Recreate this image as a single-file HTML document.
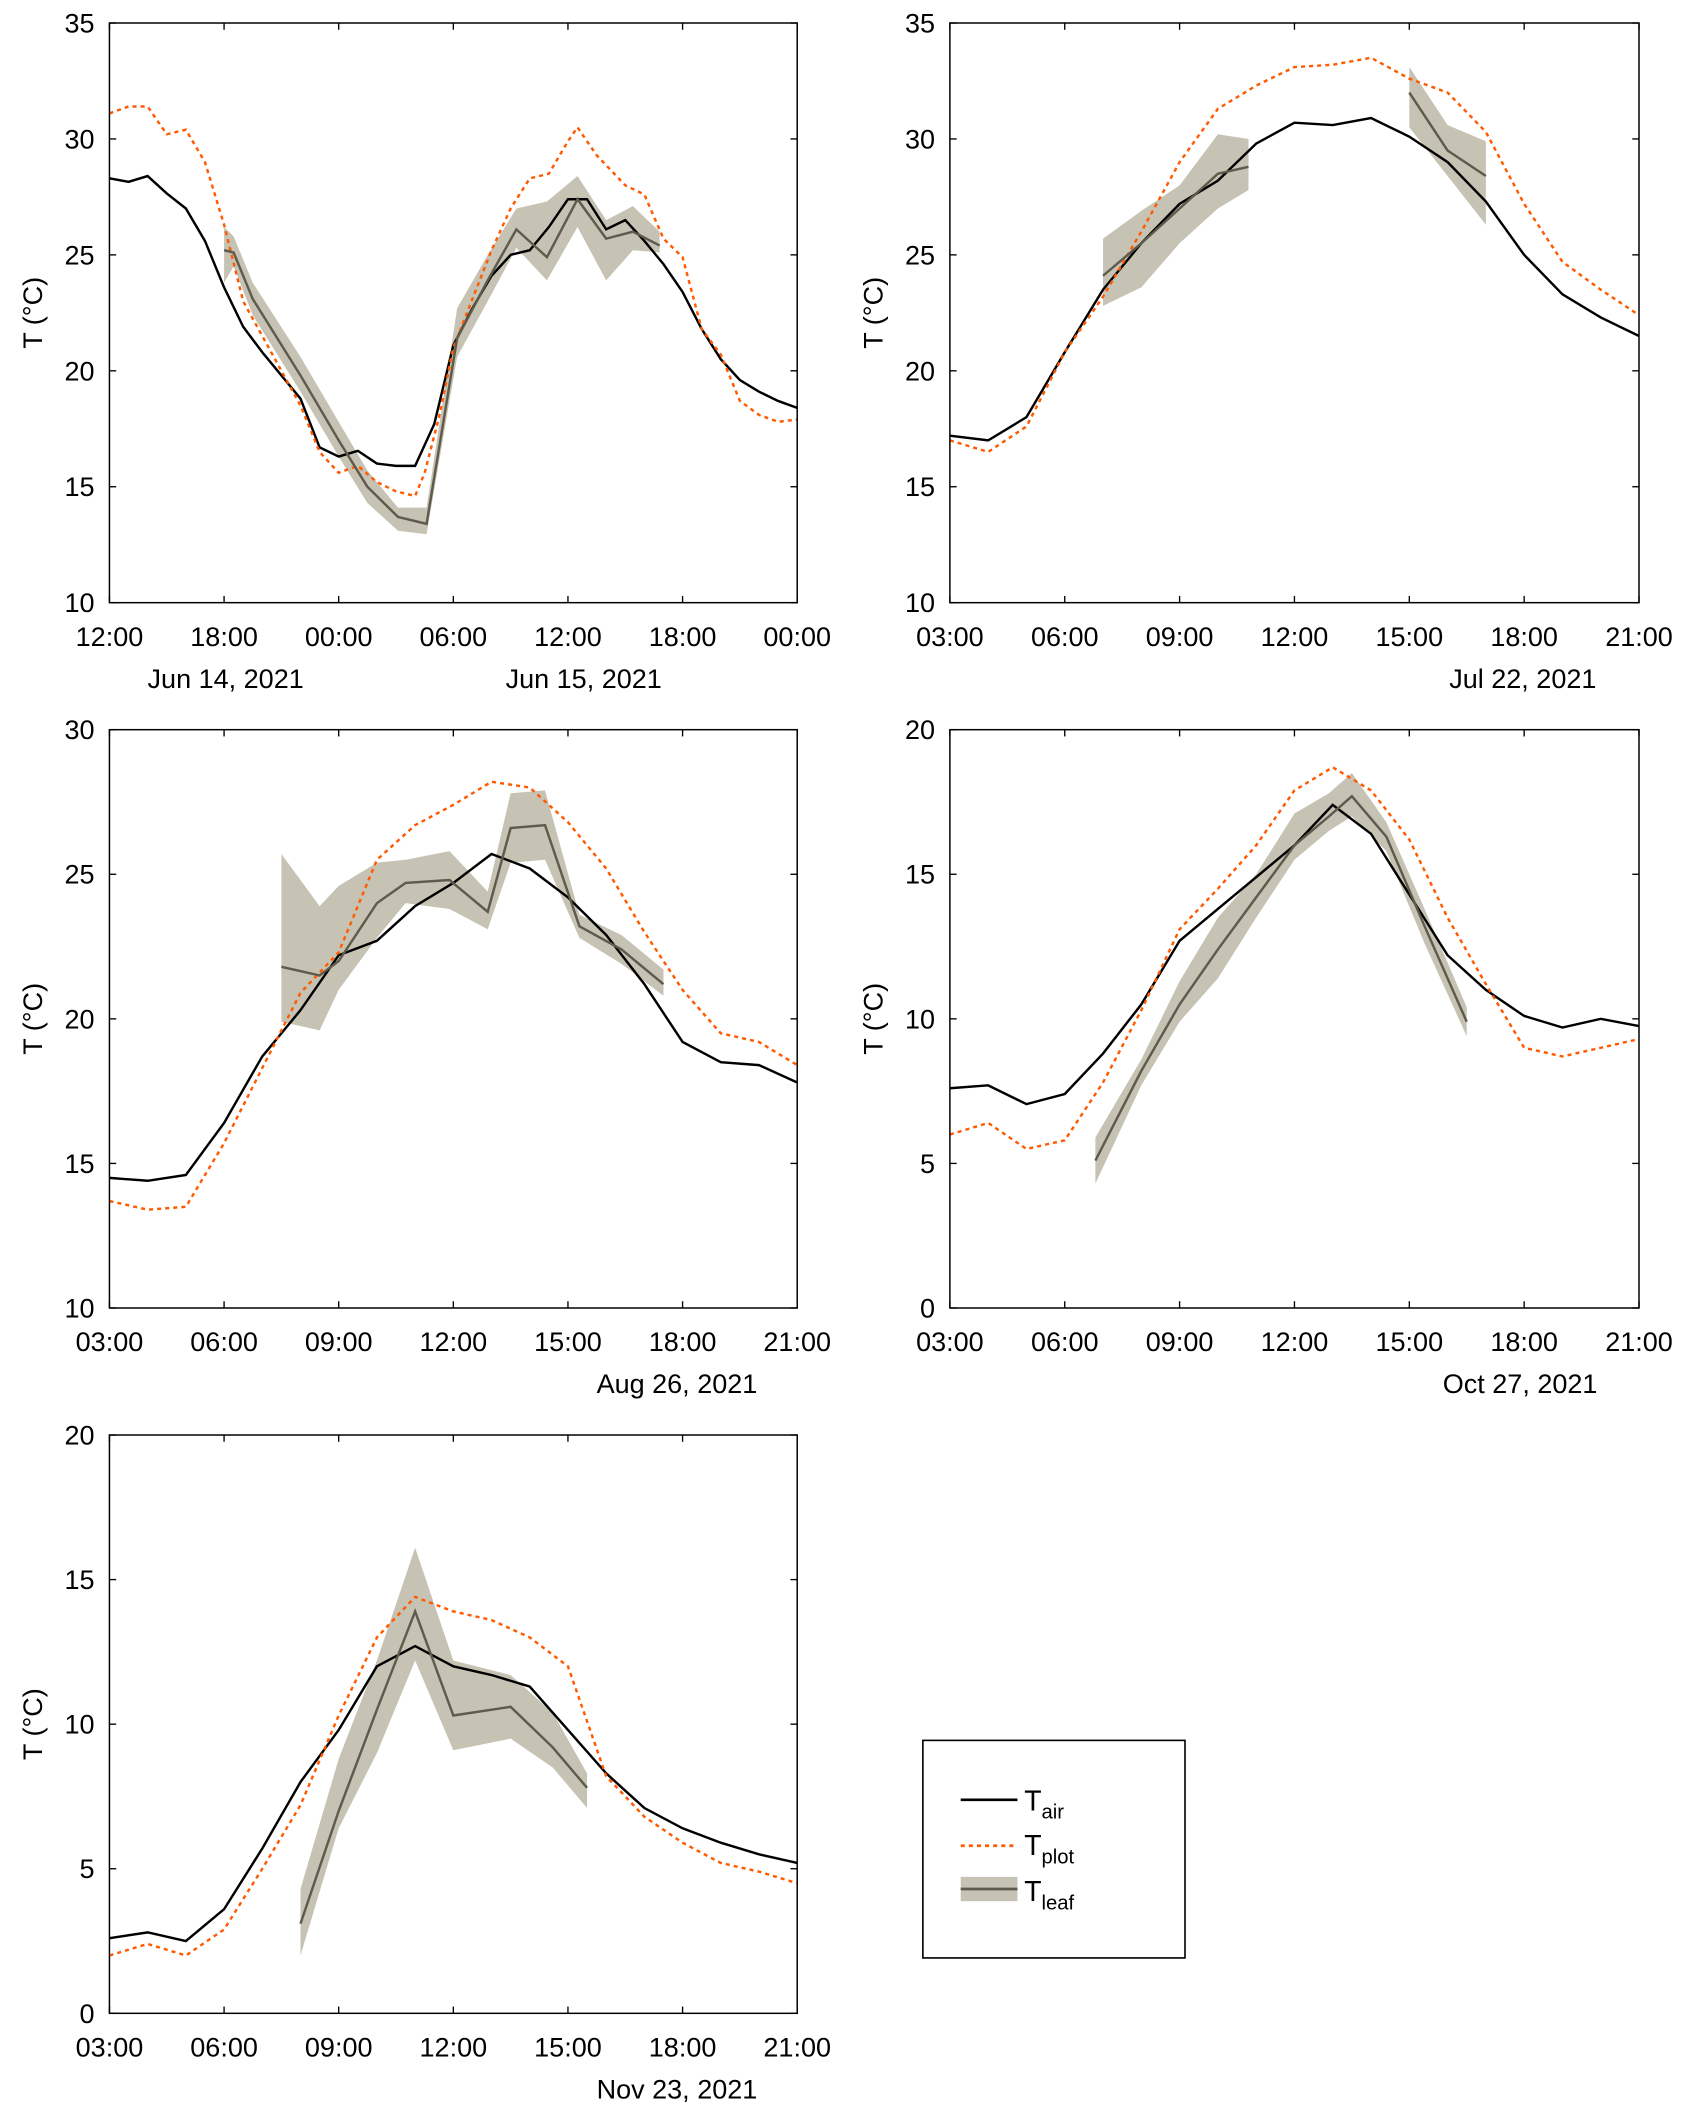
<!DOCTYPE html>
<html><head><meta charset="utf-8">
<style>
html,body{margin:0;padding:0;background:#fff;}
svg{display:block;font-family:"Liberation Sans",Arial,sans-serif;}
</style></head>
<body>
<svg id="fig" width="1689" height="2112" viewBox="0 0 1250 1563" xmlns="http://www.w3.org/2000/svg">
<g id="legend">
<rect x="683" y="1288" width="194" height="161" fill="#fff" stroke="#000" stroke-width="1.2"/>
<line x1="711" y1="1332" x2="753" y2="1332" stroke="#000" stroke-width="2"/>
<text x="758" y="1340" font-size="21">T<tspan font-size="15" dy="6">air</tspan></text>
<line x1="711" y1="1366" x2="753" y2="1366" stroke="#ff5a00" stroke-width="2" stroke-dasharray="3,3"/>
<text x="758" y="1373" font-size="21">T<tspan font-size="15" dy="6">plot</tspan></text>
<rect x="711" y="1389" width="42" height="18" fill="#c7c3b4"/>
<line x1="711" y1="1398" x2="753" y2="1398" stroke="#5e5b4c" stroke-width="2"/>
<text x="758" y="1407" font-size="21">T<tspan font-size="15" dy="6">leaf</tspan></text>
</g>
</svg>
<script>
// ---- Panel 1: Jun 14-15 (hours since 12:00 Jun 14)
const p1AirX=[0,1,2,3,4,5,6,7,8,9,10,11,12,13,14,15,16,17,18,19,20,21,22,23,24,25,26,27,28,29,30,31,32,33,34,35,36];
const p1Air=[28.3,28.15,28.4,27.65,27.0,25.6,23.6,21.9,20.8,19.8,18.8,16.7,16.3,16.55,16.0,15.9,15.9,17.7,21.1,22.7,24.1,25.0,25.2,26.2,27.4,27.4,26.1,26.5,25.6,24.6,23.4,21.8,20.5,19.6,19.1,18.7,18.4];
const p1PlotX=[0,1,2,3,4,5,6,7,8,9,10,11,12,13,14,15,16,16.5,17.25,18,19,20,21,22,23,24,24.5,25.5,27,28,29,30,31,32,33,34,35,36];
const p1Plot=[31.1,31.4,31.4,30.2,30.4,29.0,26.3,23.0,21.5,20.0,18.5,16.5,15.6,15.9,15.2,14.8,14.6,15.6,18.0,21.0,23.1,25.2,27.0,28.3,28.5,29.9,30.5,29.3,28.0,27.6,25.7,24.9,21.8,20.7,18.7,18.1,17.8,17.9];
const p1LeafX=[6,6.5,7.5,10,12,13.5,15.1,16.6,18.2,19.8,21.3,22.9,24.5,26,27.4,28.8];
const p1Leaf=[25.2,25.1,23.1,19.8,17.0,15.0,13.7,13.4,21.4,23.9,26.1,24.9,27.4,25.7,26.0,25.4];
const p1LeafHi=[26.2,25.8,23.8,20.6,17.8,15.7,14.1,14.1,22.7,25.0,27.0,27.3,28.4,26.5,27.1,26.0];
const p1LeafLo=[23.8,24.5,22.4,19.1,16.3,14.3,13.1,12.95,20.6,23.0,25.3,23.9,26.2,23.9,25.2,25.1];
// ---- Panels 2-5 share hours 3..21
const hrs=[3,4,5,6,7,8,9,10,11,12,13,14,15,16,17,18,19,20,21];
const p2Air=[17.2,17.0,18.0,20.8,23.5,25.5,27.2,28.2,29.8,30.7,30.6,30.9,30.1,29.0,27.3,25.0,23.3,22.3,21.5];
const p2Plot=[17.0,16.5,17.6,20.8,23.2,26.0,29.0,31.3,32.3,33.1,33.2,33.5,32.6,32.0,30.3,27.2,24.7,23.5,22.4];
const p2LeafAX=[7,8,9,10,10.8], p2LeafA=[24.1,25.5,27.0,28.5,28.8], p2LeafAHi=[25.7,26.9,28.0,30.2,30.0], p2LeafALo=[22.8,23.6,25.5,27.0,27.8];
const p2LeafBX=[15,16,17], p2LeafB=[32.0,29.5,28.4], p2LeafBHi=[33.1,30.6,29.9], p2LeafBLo=[30.5,28.4,26.3];
const p3Air=[14.5,14.4,14.6,16.4,18.7,20.3,22.2,22.7,23.9,24.7,25.7,25.2,24.2,22.9,21.2,19.2,18.5,18.4,17.8];
const p3Plot=[13.7,13.4,13.5,15.7,18.3,20.9,22.3,25.5,26.7,27.4,28.2,28.0,26.8,25.2,23.0,21.0,19.5,19.2,18.4];
const p3LeafX=[7.5,8.5,9,10,10.75,11.9,12.9,13.5,14.4,15.3,16.4,17.5];
const p3Leaf=[21.8,21.5,22.0,24.0,24.7,24.8,23.7,26.6,26.7,23.2,22.4,21.2];
const p3LeafHi=[25.7,23.9,24.6,25.4,25.5,25.8,24.4,27.8,27.9,23.6,22.9,21.7];
const p3LeafLo=[19.9,19.6,21.0,22.8,24.0,23.8,23.1,25.4,25.5,22.8,21.9,20.8];
const p4Air=[7.6,7.7,7.05,7.4,8.8,10.5,12.7,13.8,14.9,16.0,17.4,16.4,14.3,12.2,11.0,10.1,9.7,10.0,9.75];
const p4Plot=[6.0,6.4,5.5,5.8,7.8,10.3,13.1,14.5,16.0,17.9,18.7,17.9,16.2,13.5,11.2,9.0,8.7,9.0,9.3];
const p4LeafX=[6.8,8,9,10,11,12,12.9,13.5,14.4,15.4,16.5];
const p4Leaf=[5.1,8.2,10.5,12.4,14.2,16.0,17.0,17.7,16.3,13.2,9.9];
const p4LeafHi=[5.9,8.6,11.3,13.5,15.0,17.1,17.8,18.5,16.8,13.8,10.4];
const p4LeafLo=[4.3,7.7,9.9,11.4,13.5,15.5,16.5,17.0,15.8,12.6,9.4];
const p5Air=[2.6,2.8,2.5,3.6,5.7,8.0,9.8,12.0,12.7,12.0,11.7,11.3,9.8,8.3,7.1,6.4,5.9,5.5,5.2];
const p5Plot=[2.0,2.4,2.0,2.9,5.0,7.2,10.3,13.0,14.4,13.9,13.6,13.0,12.0,8.2,6.8,5.9,5.2,4.9,4.5];
const p5LeafX=[8,9,10,11,12,13.5,14.6,15.5];
const p5Leaf=[3.1,7.0,10.5,13.9,10.3,10.6,9.2,7.8];
const p5LeafHi=[4.3,8.8,12.2,16.1,12.2,11.7,10.4,8.3];
const p5LeafLo=[2.0,6.4,9.0,12.2,9.1,9.5,8.5,7.1];
const tickLabels1=["12:00","18:00","00:00","06:00","12:00","18:00","00:00"];
const tickLabelsStd=["03:00","06:00","09:00","12:00","15:00","18:00","21:00"];
const yT35=[10,15,20,25,30,35], yT30=[10,15,20,25,30], yT20=[0,5,10,15,20];

const NS="http://www.w3.org/2000/svg";
const svg=document.getElementById('fig');
function el(tag,attrs,parent){const e=document.createElementNS(NS,tag);for(const k in attrs)e.setAttribute(k,attrs[k]);(parent||svg).appendChild(e);return e;}

function panel(name,box,xmin,xmax,ymin,ymax,yticks,xticks,xlabels,dates,air,plot,leaves){
  const g=el('g',{});
  
  
  const [L,T,R,B]=box;
  const sx=v=>L+(v-xmin)/(xmax-xmin)*(R-L);
  const sy=v=>B-(v-ymin)/(ymax-ymin)*(B-T);
  leaves.forEach((lf,i)=>{
    let d='';lf.x.forEach((x,j)=>{d+=(j?'L':'M')+sx(x)+','+sy(lf.hi[j]);});
    for(let j=lf.x.length-1;j>=0;j--)d+='L'+sx(lf.x[j])+','+sy(lf.lo[j]);
    const b=el('path',{d:d+'Z',fill:'#c7c3b4',stroke:'none'},g);
    
    
  });
  const line=(xs,ys,attrs,nm)=>{const p=el('polyline',Object.assign({points:xs.map((x,j)=>sx(x)+','+sy(ys[j])).join(' '),fill:'none'},attrs),g);
    
    };
  line(air.x,air.y,{stroke:'#000','stroke-width':1.8},'tair-line');
  line(plot.x,plot.y,{stroke:'#ff5a00','stroke-width':1.8,'stroke-dasharray':'3,3'},'tplot-line');
  leaves.forEach(lf=>line(lf.x,lf.m,{stroke:'#5e5b4c','stroke-width':1.8},'tleaf-line'));
  const fr=el('rect',{x:L,y:T,width:R-L,height:B-T,fill:'none',stroke:'#000','stroke-width':1.1},g);
  
  
  yticks.forEach(v=>{const y=sy(v);
    el('line',{x1:L,y1:y,x2:L+5,y2:y,stroke:'#000','stroke-width':1},g);
    el('line',{x1:R,y1:y,x2:R-5,y2:y,stroke:'#000','stroke-width':1},g);
    const t=el('text',{x:L-11,y:y+7,'font-size':20,'text-anchor':'end'},g);t.textContent=v;
    
    });
  xticks.forEach((v,i)=>{const x=sx(v);
    el('line',{x1:x,y1:B,x2:x,y2:B-5,stroke:'#000','stroke-width':1},g);
    el('line',{x1:x,y1:T,x2:x,y2:T+5,stroke:'#000','stroke-width':1},g);
    const t=el('text',{x:x,y:B+32,'font-size':20,'text-anchor':'middle'},g);t.textContent=xlabels[i];
    
    });
  dates.forEach(d=>{const t=el('text',{x:d[1],y:B+63,'font-size':20,'text-anchor':'middle'},g);t.textContent=d[0];
    
    });
  const yl=el('text',{x:0,y:0,'font-size':20,'text-anchor':'middle',transform:`translate(${L-50},${(T+B)/2}) rotate(-90)`},g);
  yl.textContent='T (°C)';
  
  
}
const stdX=[3,6,9,12,15,18,21];
panel('panel-jun14',[81,17,590,446],0,36,10,35,yT35,[0,6,12,18,24,30,36],tickLabels1,[['Jun 14, 2021',167],['Jun 15, 2021',432]],
  {x:p1AirX,y:p1Air},{x:p1PlotX,y:p1Plot},[{x:p1LeafX,m:p1Leaf,hi:p1LeafHi,lo:p1LeafLo}]);
panel('panel-jul22',[703,17,1213,446],3,21,10,35,yT35,stdX,tickLabelsStd,[['Jul 22, 2021',1127]],
  {x:hrs,y:p2Air},{x:hrs,y:p2Plot},[{x:p2LeafAX,m:p2LeafA,hi:p2LeafAHi,lo:p2LeafALo},{x:p2LeafBX,m:p2LeafB,hi:p2LeafBHi,lo:p2LeafBLo}]);
panel('panel-aug26',[81,540,590,968],3,21,10,30,yT30,stdX,tickLabelsStd,[['Aug 26, 2021',501]],
  {x:hrs,y:p3Air},{x:hrs,y:p3Plot},[{x:p3LeafX,m:p3Leaf,hi:p3LeafHi,lo:p3LeafLo}]);
panel('panel-oct27',[703,540,1213,968],3,21,0,20,yT20,stdX,tickLabelsStd,[['Oct 27, 2021',1125]],
  {x:hrs,y:p4Air},{x:hrs,y:p4Plot},[{x:p4LeafX,m:p4Leaf,hi:p4LeafHi,lo:p4LeafLo}]);
panel('panel-nov23',[81,1062,590,1490],3,21,0,20,yT20,stdX,tickLabelsStd,[['Nov 23, 2021',501]],
  {x:hrs,y:p5Air},{x:hrs,y:p5Plot},[{x:p5LeafX,m:p5Leaf,hi:p5LeafHi,lo:p5LeafLo}]);
</script>
</body></html>
